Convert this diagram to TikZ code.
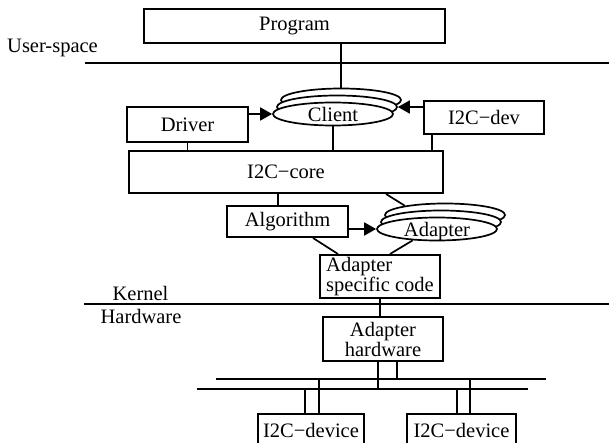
\documentclass[tikz,border=0pt]{standalone}
\usepackage{fontspec}
\setmainfont{Liberation Serif}
\usetikzlibrary{arrows.meta,shapes.geometric,calc}
\begin{document}
\begin{tikzpicture}[x=1pt,y=-1pt,
  every node/.style={font=\fontsize{20.5}{20}\selectfont},
  box/.style={draw,line width=2pt,inner sep=0pt,align=center},
  cyl/.style={draw,ellipse,fill=white,line width=1.7pt,minimum width=120pt,minimum height=23pt,inner sep=0pt,text height=15pt,text depth=0pt},
  conn/.style={line width=1.7pt},
  arr/.style={line width=1.7pt,-{Triangle[length=12pt,width=13pt]}},
  bus/.style={line width=2pt},
  lbl/.style={inner sep=0pt}]
\useasboundingbox (0,0) rectangle (609,443);
\clip (0,0) rectangle (609,443);

% boxes
\node[box,minimum width=301pt,minimum height=34pt] (prog) at (294.5,26) {Program};
\node[box,minimum width=121pt,minimum height=35pt] (driver) at (187.5,124.5) {Driver};
\node[box,minimum width=120pt,minimum height=33pt] (i2cdev) at (484,117.5) {I2C−dev};
\node[box,minimum width=314pt,minimum height=42pt] (core) at (286,172) {I2C−core};
\node[box,minimum width=121pt,minimum height=31pt] (algo) at (287.5,221.5) {Algorithm};
\node[box,minimum width=120pt,minimum height=43pt,align=left] (spec) at (380,276.5) {Adapter\\specific code};
\node[box,minimum width=120pt,minimum height=44pt] (hw) at (383,339) {Adapter\\hardware};
\node[box,minimum width=106pt,minimum height=32pt] (dev1) at (311,430) {I2C−device};
\node[box,minimum width=109pt,minimum height=32pt] (dev2) at (461.5,430) {I2C−device};

% stacked ellipses
\node[cyl] (clB2) at (341,100) {};
\node[cyl] (clB1) at (337,107) {};
\node[cyl] (client) at (333,114) {Client};
\node[cyl] (adB2) at (445,215) {};
\node[cyl] (adB1) at (441,222) {};
\node[cyl] (adapter) at (437,229) {Adapter};

% labels
\node[lbl,anchor=base west] (us) at (7,53) {User-space};
\node[lbl,anchor=base] (kern) at (140.5,300) {Kernel};
\node[lbl,anchor=base] (hwl) at (141,323) {Hardware};

% separators
\coordinate (s1a) at (85,63); \coordinate (s1b) at (609,63);
\coordinate (s2a) at (84,304); \coordinate (s2b) at (609,304);
\draw[bus] (s1a) -- (s1b);
\draw[bus] (s2a) -- (s2b);

% connectors
\draw[conn] (prog.south -| clB2.north) -- (clB2.north);
\draw[arr] (driver.east |- client.west) -- (client.west);
\draw[arr] (i2cdev.west |- clB1.east) -- (clB1.east);
\draw[conn] (driver.south) -- (driver.south |- core.north);
\draw[conn] (client.south) -- (client.south |- core.north);
\coordinate (d3) at ($(i2cdev.south west)+(9,0)$);
\draw[conn] (d3) -- (d3 |- core.north);
\coordinate (c1) at ($(algo.north)+(-9.5,0)$);
\draw[conn] (c1 |- core.south) -- (c1);
\coordinate (c2) at ($(core.south east)+(-58,0)$);
\draw[conn] (c2) -- (adB2.167);
\draw[arr] (algo.east |- adapter.west) -- (adapter.west);
\coordinate (a1) at ($(algo.south)+(25.5,0)$);
\coordinate (a2) at ($(spec.north)+(-42,0)$);
\draw[conn] (a1) -- (a2);
\coordinate (a3) at ($(spec.north)+(10,0)$);
\draw[conn] (adapter.205) -- (a3);
\draw[conn] (spec.south) -- (spec.south |- hw.north);

% buses
\coordinate (bu1) at (216,379); \coordinate (bu2) at (546,379);
\coordinate (bl1) at (197,389); \coordinate (bl2) at (528,389);
\draw[bus] (bu1) -- (bu2);
\draw[bus] (bl1) -- (bl2);
\coordinate (h1) at ($(hw.south)+(-5,0)$);
\draw[conn] (h1) -- (h1 |- bl1);
\coordinate (h2) at ($(hw.south)+(14,0)$);
\draw[conn] (h2) -- (h2 |- bu1);
\coordinate (e1) at ($(dev1.north)+(-6,0)$);
\draw[conn] (e1 |- bl1) -- (e1);
\coordinate (e2) at ($(dev1.north)+(8,0)$);
\draw[conn] (e2 |- bu1) -- (e2);
\coordinate (f1) at ($(dev2.north)+(-4.5,0)$);
\draw[conn] (f1 |- bl1) -- (f1);
\coordinate (f2) at ($(dev2.north)+(8.5,0)$);
\draw[conn] (f2 |- bu1) -- (f2);
\end{tikzpicture}
\end{document}
